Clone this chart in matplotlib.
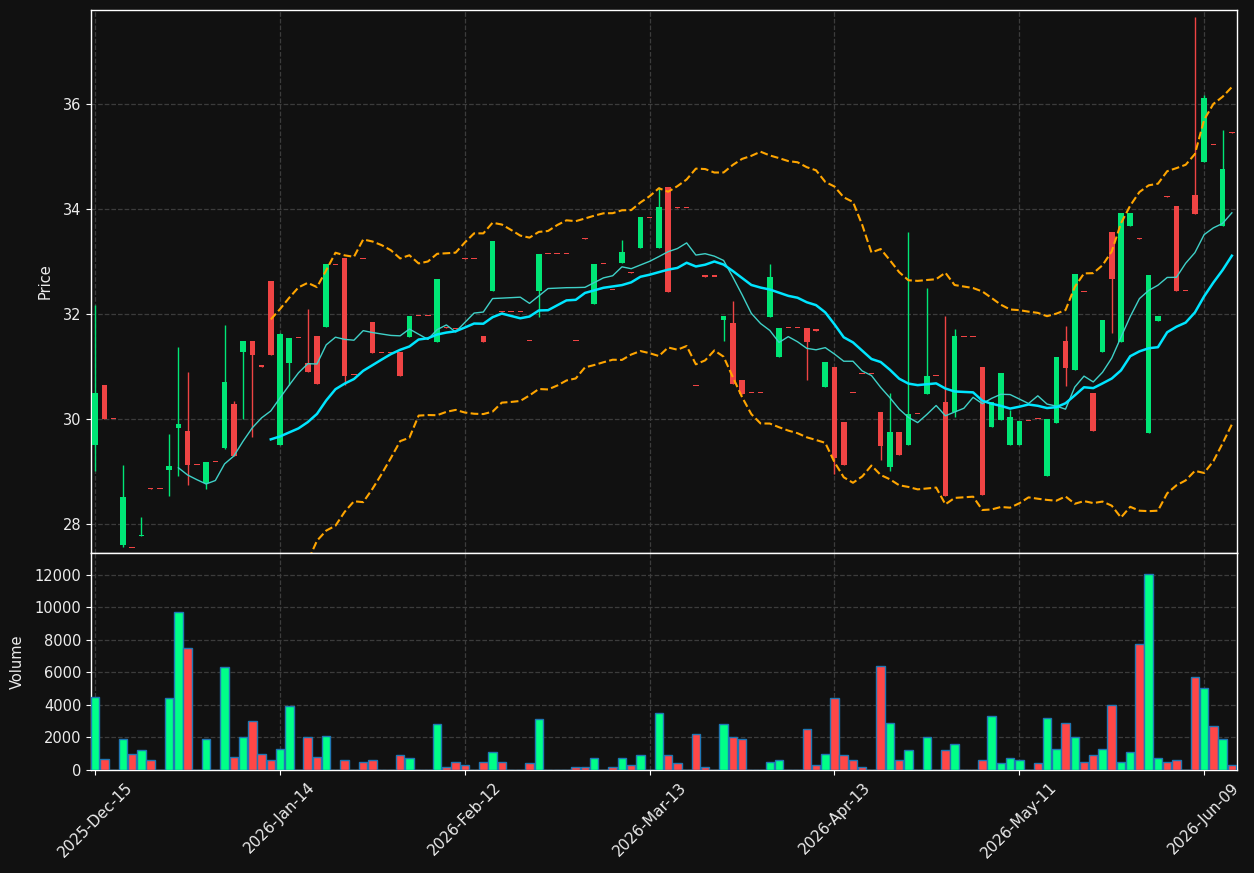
import numpy as np
import pandas as pd
import matplotlib
matplotlib.use("Agg")
import matplotlib.pyplot as plt

# ---------------- data ----------------
opens = [29.51, 30.65, 30.01, 27.60, 27.55, 27.77, 28.68, 28.67, 29.03, 29.84,
         29.78, 29.12, 28.78, 29.18, 29.46, 30.29, 31.28, 31.49, 31.04, 32.63,
         29.51, 31.07, 31.54, 31.07, 31.58, 31.76, 32.94, 33.07, 30.84, 33.06,
         31.85, 31.27, 31.27, 31.28, 31.57, 31.96, 31.96, 31.48, 31.76, 31.73,
         33.07, 33.06, 31.58, 32.44, 32.06, 32.05, 32.05, 31.50, 32.44, 33.14,
         33.14, 33.14, 31.50, 33.45, 32.19, 32.95, 32.47, 32.98, 32.80, 33.26,
         33.84, 33.26, 34.42, 34.04, 34.03, 30.64, 32.73, 32.72, 31.89, 31.83,
         30.74, 30.49, 30.49, 31.95, 31.19, 31.74, 31.74, 31.74, 31.70, 30.61,
         31.00, 29.95, 30.50, 30.87, 30.86, 30.14, 29.08, 29.76, 29.51, 30.10,
         30.48, 30.82, 30.33, 30.14, 31.57, 31.57, 31.00, 29.85, 29.98, 29.51,
         29.51, 29.96, 30.01, 28.91, 29.92, 31.49, 30.94, 32.43, 30.50, 31.29,
         33.56, 31.47, 33.69, 33.45, 29.74, 31.88, 34.25, 34.06, 32.45, 34.27,
         34.90, 35.23, 33.68, 35.47]
highs = [32.17, 30.65, 30.01, 29.12, 27.55, 28.13, 28.68, 28.67, 29.71, 31.37,
         30.90, 29.12, 29.19, 29.18, 31.80, 30.35, 31.49, 31.49, 31.04, 32.63,
         31.65, 31.55, 31.54, 32.10, 31.58, 32.95, 32.94, 33.07, 30.84, 33.06,
         31.85, 31.27, 31.27, 31.28, 31.97, 31.96, 31.96, 32.67, 31.76, 31.73,
         33.07, 33.06, 31.58, 33.39, 32.06, 32.05, 32.05, 31.50, 33.15, 33.14,
         33.14, 33.14, 31.50, 33.45, 32.95, 32.95, 32.47, 33.42, 32.80, 33.85,
         33.84, 34.42, 34.42, 34.04, 34.03, 30.64, 32.73, 32.72, 31.97, 32.25,
         30.74, 30.49, 30.49, 32.95, 31.74, 31.74, 31.74, 31.74, 31.70, 31.09,
         31.00, 29.95, 30.50, 30.87, 30.86, 30.14, 30.49, 29.76, 33.56, 30.10,
         32.51, 30.82, 31.97, 31.72, 31.57, 31.57, 31.00, 30.33, 30.88, 30.18,
         29.97, 29.96, 30.01, 30.00, 31.19, 31.77, 32.76, 32.43, 30.50, 31.89,
         33.56, 33.93, 33.93, 33.45, 32.75, 31.97, 34.25, 34.06, 32.45, 37.67,
         36.18, 35.23, 35.51, 35.47]
lows = [29.01, 30.01, 30.01, 27.57, 27.54, 27.77, 28.67, 28.67, 28.54, 28.91,
        28.75, 29.12, 28.66, 29.18, 29.44, 29.29, 30.00, 29.67, 31.00, 31.23,
        29.51, 30.65, 31.54, 30.90, 30.67, 31.76, 32.94, 30.65, 30.84, 33.05,
        31.26, 31.27, 31.27, 30.82, 31.57, 31.96, 31.96, 31.48, 31.74, 31.72,
        33.06, 33.06, 31.47, 32.44, 32.05, 32.05, 32.05, 31.49, 31.95, 33.14,
        33.14, 33.14, 31.49, 33.44, 32.19, 32.95, 32.46, 32.98, 32.79, 33.26,
        33.84, 33.26, 32.43, 34.03, 34.03, 30.63, 32.72, 32.72, 31.49, 30.68,
        30.48, 30.49, 30.49, 31.95, 31.19, 31.74, 31.74, 30.74, 31.69, 30.61,
        28.96, 29.12, 30.49, 30.86, 30.86, 29.22, 29.01, 29.32, 29.51, 30.10,
        30.48, 30.82, 28.53, 30.05, 31.57, 31.57, 28.55, 29.85, 29.98, 29.51,
        29.51, 29.96, 30.00, 28.91, 29.92, 30.63, 30.94, 32.42, 29.77, 31.29,
        31.64, 31.47, 33.69, 33.44, 29.74, 31.88, 34.24, 32.45, 32.45, 33.91,
        34.90, 35.22, 33.68, 35.46]
closes = [30.50, 30.01, 30.01, 28.52, 27.54, 27.80, 28.67, 28.67, 29.11, 29.91,
          29.12, 29.12, 29.19, 29.18, 30.71, 29.30, 31.49, 31.23, 31.00, 31.23,
          31.62, 31.55, 31.54, 30.90, 30.67, 32.95, 32.94, 30.82, 30.84, 33.05,
          31.26, 31.27, 31.27, 30.82, 31.97, 31.96, 31.96, 32.67, 31.74, 31.72,
          33.06, 33.06, 31.47, 33.39, 32.05, 32.05, 32.05, 31.49, 33.15, 33.14,
          33.14, 33.14, 31.49, 33.44, 32.95, 32.95, 32.46, 33.19, 32.79, 33.85,
          33.84, 34.04, 32.43, 34.03, 34.03, 30.63, 32.72, 32.72, 31.97, 30.68,
          30.48, 30.49, 30.49, 32.71, 31.74, 31.74, 31.74, 31.47, 31.69, 31.09,
          29.26, 29.12, 30.49, 30.86, 30.86, 29.48, 29.76, 29.32, 30.10, 30.10,
          30.82, 30.82, 28.53, 31.58, 31.57, 31.57, 28.55, 30.33, 30.88, 30.05,
          29.97, 29.96, 30.00, 30.00, 31.19, 30.98, 32.76, 32.42, 29.77, 31.89,
          32.68, 33.93, 33.93, 33.44, 32.75, 31.97, 34.24, 32.45, 32.45, 33.91,
          36.12, 35.22, 34.77, 35.46]
volumes = [4458, 695, 0, 1881, 961, 1207, 593, 0, 4397, 9673,
           7464, 0, 1881, 0, 6299, 777, 2004, 2986, 961, 593,
           1268, 3906, 0, 2004, 777, 2065, 0, 593, 0, 470,
           593, 0, 0, 900, 716, 0, 0, 2802, 164, 470,
           286, 0, 470, 1084, 470, 0, 0, 409, 3108, 0,
           0, 0, 164, 164, 716, 0, 164, 716, 286, 900,
           0, 3476, 900, 409, 0, 2188, 164, 0, 2802, 2004,
           1881, 0, 0, 470, 593, 0, 0, 2495, 286, 961,
           4397, 900, 593, 164, 0, 6360, 2863, 593, 1207, 0,
           2004, 0, 1207, 1575, 0, 0, 593, 3292, 409, 716,
           593, 0, 409, 3170, 1268, 2863, 2004, 470, 900, 1268,
           3967, 470, 1084, 7710, 12065, 716, 470, 593, 0, 5685,
           5010, 2679, 1881, 286]

holidays = ["2025-12-25", "2026-01-01", "2026-01-19", "2026-02-16",
            "2026-04-03", "2026-05-25"]
start_date = "2025-12-15"

# ---------------- derived ----------------
n = len(closes)
dates = pd.bdate_range(start=start_date, periods=n + 10, freq="C",
                       holidays=holidays)[:n]
o = np.array(opens); h = np.array(highs); l = np.array(lows)
c = np.array(closes); v = np.array(volumes)
x = np.arange(n)
cs = pd.Series(c)
ma10 = cs.rolling(10).mean()
ma20 = cs.rolling(20).mean()
sd20 = cs.rolling(20).std()
upper = ma20 + 2 * sd20
lower = ma20 - 2 * sd20

BG = "#111111"
UP_C, DN_C = "#00e676", "#ef4444"
UP_V, DN_V = "#00ff88", "#ff4747"
TXT = "#ececec"
GRID = "#3c3c3c"

fig = plt.figure(figsize=(12.54, 8.73), dpi=100, facecolor=BG)
ax = fig.add_axes([0.0726, 0.3666, 0.9138, 0.6219], facecolor=BG)
axv = fig.add_axes([0.0726, 0.118, 0.9138, 0.2486], facecolor=BG, sharex=ax)

up = c > o
col = np.where(up, UP_C, DN_C)

# wicks
ax.vlines(x, l, h, colors=col, linewidth=1.0, zorder=2)
# bodies
bottom = np.minimum(o, c)
height = np.maximum(np.abs(c - o), 0.02)
ax.bar(x, height, bottom=bottom, width=0.6, color=col, linewidth=0, zorder=3)

# moving averages and bands
ax.plot(x, ma10, color="#3fd1c8", linewidth=1.0, zorder=4)
ax.plot(x, ma20, color="#00e5ff", linewidth=1.8, zorder=4)
ax.plot(x, upper, color="#ffa500", linewidth=1.5, linestyle="--", zorder=4)
ax.plot(x, lower, color="#ffa500", linewidth=1.5, linestyle="--", zorder=4)

ax.set_ylim(27.45, 37.8)
ax.set_xlim(-0.45, n - 0.45)
ax.set_ylabel("Price", color=TXT, fontsize=10.5, labelpad=7)

# volume
vcol = np.where(up, UP_V, DN_V)
axv.bar(x, v, width=0.92, color=vcol, edgecolor="#1f77b4", linewidth=1.0, zorder=3)
axv.set_ylim(0, 13330)
axv.set_ylabel("Volume", color=TXT, fontsize=10.5, labelpad=7)

tick_idx = list(range(0, n, 20))
tick_labels = [dates[i].strftime("%Y-%b-%d") for i in tick_idx]
axv.set_xticks(tick_idx)
axv.set_xticklabels(tick_labels, rotation=45, ha="center", fontsize=11, color=TXT)
plt.setp(ax.get_xticklabels(), visible=False)

for a in (ax, axv):
    a.grid(True, color=GRID, linestyle="--", linewidth=0.9)
    a.set_axisbelow(True)
    for s in a.spines.values():
        s.set_color("white")
        s.set_linewidth(1.0)
    a.tick_params(axis="both", colors="white", labelcolor=TXT, labelsize=10.5)
axv.tick_params(axis="x", labelsize=11)

fig.savefig("out.png", dpi=100, facecolor=BG)
